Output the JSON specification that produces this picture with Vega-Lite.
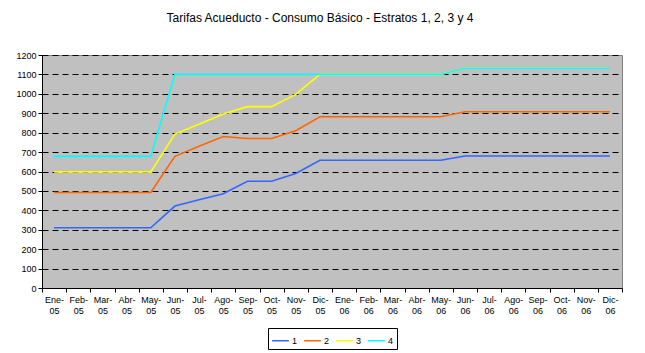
{
  "$schema": "https://vega.github.io/schema/vega-lite/v6.json",
  "autosize": {"type": "none"},
  "width": 580,
  "height": 233,
  "padding": {"left": 42, "top": 55, "right": 23, "bottom": 65},
  "background": "white",
  "title": {
    "text": "Tarifas Acueducto - Consumo Básico - Estratos 1, 2, 3 y 4",
    "font": "Liberation Sans",
    "fontSize": 12,
    "fontWeight": "normal",
    "color": "black",
    "anchor": "middle",
    "offset": 26,
    "dx": -12
  },
  "data": {
    "values": [
      {"mes": "Ene-05", "estrato": "1", "valor": 310}, {"mes": "Feb-05", "estrato": "1", "valor": 310}, {"mes": "Mar-05", "estrato": "1", "valor": 310}, {"mes": "Abr-05", "estrato": "1", "valor": 310}, {"mes": "May-05", "estrato": "1", "valor": 310}, {"mes": "Jun-05", "estrato": "1", "valor": 422}, {"mes": "Jul-05", "estrato": "1", "valor": 455}, {"mes": "Ago-05", "estrato": "1", "valor": 485}, {"mes": "Sep-05", "estrato": "1", "valor": 550}, {"mes": "Oct-05", "estrato": "1", "valor": 550}, {"mes": "Nov-05", "estrato": "1", "valor": 590}, {"mes": "Dic-05", "estrato": "1", "valor": 658},
      {"mes": "Ene-06", "estrato": "1", "valor": 658}, {"mes": "Feb-06", "estrato": "1", "valor": 658}, {"mes": "Mar-06", "estrato": "1", "valor": 658}, {"mes": "Abr-06", "estrato": "1", "valor": 658}, {"mes": "May-06", "estrato": "1", "valor": 658}, {"mes": "Jun-06", "estrato": "1", "valor": 680}, {"mes": "Jul-06", "estrato": "1", "valor": 680}, {"mes": "Ago-06", "estrato": "1", "valor": 680}, {"mes": "Sep-06", "estrato": "1", "valor": 680}, {"mes": "Oct-06", "estrato": "1", "valor": 680}, {"mes": "Nov-06", "estrato": "1", "valor": 680}, {"mes": "Dic-06", "estrato": "1", "valor": 680},
      {"mes": "Ene-05", "estrato": "2", "valor": 492}, {"mes": "Feb-05", "estrato": "2", "valor": 492}, {"mes": "Mar-05", "estrato": "2", "valor": 492}, {"mes": "Abr-05", "estrato": "2", "valor": 492}, {"mes": "May-05", "estrato": "2", "valor": 492}, {"mes": "Jun-05", "estrato": "2", "valor": 678}, {"mes": "Jul-05", "estrato": "2", "valor": 730}, {"mes": "Ago-05", "estrato": "2", "valor": 780}, {"mes": "Sep-05", "estrato": "2", "valor": 770}, {"mes": "Oct-05", "estrato": "2", "valor": 770}, {"mes": "Nov-05", "estrato": "2", "valor": 810}, {"mes": "Dic-05", "estrato": "2", "valor": 882},
      {"mes": "Ene-06", "estrato": "2", "valor": 882}, {"mes": "Feb-06", "estrato": "2", "valor": 882}, {"mes": "Mar-06", "estrato": "2", "valor": 882}, {"mes": "Abr-06", "estrato": "2", "valor": 882}, {"mes": "May-06", "estrato": "2", "valor": 882}, {"mes": "Jun-06", "estrato": "2", "valor": 908}, {"mes": "Jul-06", "estrato": "2", "valor": 908}, {"mes": "Ago-06", "estrato": "2", "valor": 908}, {"mes": "Sep-06", "estrato": "2", "valor": 908}, {"mes": "Oct-06", "estrato": "2", "valor": 908}, {"mes": "Nov-06", "estrato": "2", "valor": 908}, {"mes": "Dic-06", "estrato": "2", "valor": 908},
      {"mes": "Ene-05", "estrato": "3", "valor": 598}, {"mes": "Feb-05", "estrato": "3", "valor": 598}, {"mes": "Mar-05", "estrato": "3", "valor": 598}, {"mes": "Abr-05", "estrato": "3", "valor": 598}, {"mes": "May-05", "estrato": "3", "valor": 598}, {"mes": "Jun-05", "estrato": "3", "valor": 793}, {"mes": "Jul-05", "estrato": "3", "valor": 843}, {"mes": "Ago-05", "estrato": "3", "valor": 896}, {"mes": "Sep-05", "estrato": "3", "valor": 934}, {"mes": "Oct-05", "estrato": "3", "valor": 934}, {"mes": "Nov-05", "estrato": "3", "valor": 997}, {"mes": "Dic-05", "estrato": "3", "valor": 1100},
      {"mes": "Ene-06", "estrato": "3", "valor": 1100}, {"mes": "Feb-06", "estrato": "3", "valor": 1100}, {"mes": "Mar-06", "estrato": "3", "valor": 1100}, {"mes": "Abr-06", "estrato": "3", "valor": 1100}, {"mes": "May-06", "estrato": "3", "valor": 1100}, {"mes": "Jun-06", "estrato": "3", "valor": 1132}, {"mes": "Jul-06", "estrato": "3", "valor": 1132}, {"mes": "Ago-06", "estrato": "3", "valor": 1132}, {"mes": "Sep-06", "estrato": "3", "valor": 1132}, {"mes": "Oct-06", "estrato": "3", "valor": 1132}, {"mes": "Nov-06", "estrato": "3", "valor": 1132}, {"mes": "Dic-06", "estrato": "3", "valor": 1132},
      {"mes": "Ene-05", "estrato": "4", "valor": 678}, {"mes": "Feb-05", "estrato": "4", "valor": 678}, {"mes": "Mar-05", "estrato": "4", "valor": 678}, {"mes": "Abr-05", "estrato": "4", "valor": 678}, {"mes": "May-05", "estrato": "4", "valor": 678}, {"mes": "Jun-05", "estrato": "4", "valor": 1100}, {"mes": "Jul-05", "estrato": "4", "valor": 1100}, {"mes": "Ago-05", "estrato": "4", "valor": 1100}, {"mes": "Sep-05", "estrato": "4", "valor": 1100}, {"mes": "Oct-05", "estrato": "4", "valor": 1100}, {"mes": "Nov-05", "estrato": "4", "valor": 1100}, {"mes": "Dic-05", "estrato": "4", "valor": 1100},
      {"mes": "Ene-06", "estrato": "4", "valor": 1100}, {"mes": "Feb-06", "estrato": "4", "valor": 1100}, {"mes": "Mar-06", "estrato": "4", "valor": 1100}, {"mes": "Abr-06", "estrato": "4", "valor": 1100}, {"mes": "May-06", "estrato": "4", "valor": 1100}, {"mes": "Jun-06", "estrato": "4", "valor": 1132}, {"mes": "Jul-06", "estrato": "4", "valor": 1132}, {"mes": "Ago-06", "estrato": "4", "valor": 1132}, {"mes": "Sep-06", "estrato": "4", "valor": 1132}, {"mes": "Oct-06", "estrato": "4", "valor": 1132}, {"mes": "Nov-06", "estrato": "4", "valor": 1132}, {"mes": "Dic-06", "estrato": "4", "valor": 1132}
    ]
  },
  "mark": {"type": "line", "strokeWidth": 1.6},
  "encoding": {
    "x": {
      "field": "mes",
      "type": "ordinal",
      "sort": null,
      "scale": {"paddingInner": 0, "paddingOuter": 0},
      "axis": {
        "title": null,
        "labelAngle": 0,
        "labelExpr": "[slice(datum.label, 0, 4), slice(datum.label, 4)]",
        "labelFont": "Liberation Sans",
        "labelFontSize": 9,
        "labelColor": "black",
        "labelLineHeight": 11,
        "labelPadding": 3,
        "tickBand": "extent",
        "tickColor": "black",
        "tickSize": 4,
        "domainColor": "black",
        "grid": false
      }
    },
    "y": {
      "field": "valor",
      "type": "quantitative",
      "scale": {"domain": [0, 1200], "nice": false},
      "axis": {
        "title": null,
        "format": "d",
        "values": [0, 100, 200, 300, 400, 500, 600, 700, 800, 900, 1000, 1100, 1200],
        "labelFont": "Liberation Sans",
        "labelFontSize": 9,
        "labelColor": "black",
        "labelPadding": 2,
        "tickColor": "black",
        "tickSize": 4,
        "domainColor": "black",
        "grid": true,
        "gridColor": "black",
        "gridDash": [6, 4],
        "gridWidth": 1,
        "gridOpacity": 1
      }
    },
    "color": {
      "field": "estrato",
      "type": "nominal",
      "scale": {"domain": ["1", "2", "3", "4"], "range": ["#3366FF", "#FF6600", "#FFFF00", "#00FFFF"]},
      "legend": {
        "title": null,
        "orient": "bottom",
        "direction": "horizontal",
        "symbolType": "stroke",
        "symbolSize": 280,
        "symbolStrokeWidth": 1.5,
        "labelFont": "Liberation Sans",
        "labelFontSize": 9,
        "labelColor": "black",
        "labelOffset": 2,
        "strokeColor": "black",
        "padding": 3,
        "offset": 13,
        "columnPadding": 3
      }
    }
  },
  "config": {
    "view": {"fill": "#C0C0C0", "stroke": "#808080", "strokeWidth": 1},
    "legend": {"layout": {"bottom": {"anchor": "middle"}}}
  }
}
